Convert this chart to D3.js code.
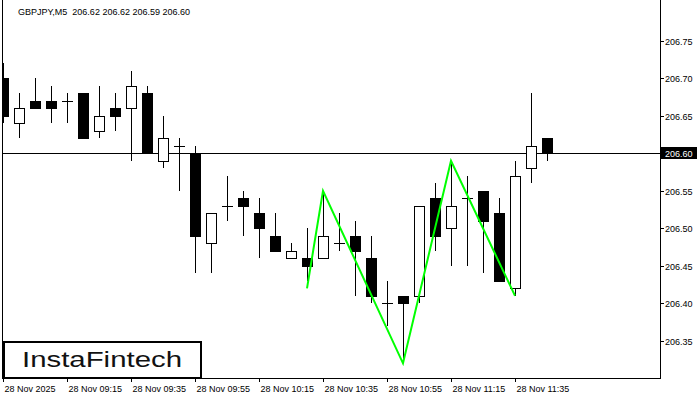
<!DOCTYPE html>
<html>
<head>
<meta charset="utf-8">
<script src="https://cdn.jsdelivr.net/npm/d3@7"></script>
<style>
  html, body { margin: 0; padding: 0; background: #fff; }
  svg { display: block; }
  text { font-family: "Liberation Sans", Arial, sans-serif; white-space: pre; }
</style>
</head>
<body>
<svg id="chart" width="700" height="400"></svg>
<script>
// ---- data ----
const times = ["08:55","09:00","09:05","09:10","09:15","09:20","09:25","09:30","09:35","09:40",
               "09:45","09:50","09:55","10:00","10:05","10:10","10:15","10:20","10:25","10:30",
               "10:35","10:40","10:45","10:50","10:55","11:00","11:05","11:10","11:15","11:20",
               "11:25","11:30","11:35","11:40","11:45"];
const opens  = [206.70,206.64,206.67,206.67,206.67,206.68,206.63,206.66,206.66,206.68,
                206.59,206.61,206.60,206.48,206.53,206.54,206.52,206.49,206.46,206.46,
                206.46,206.48,206.49,206.46,206.40,206.41,206.41,206.54,206.50,206.54,
                206.55,206.52,206.42,206.58,206.62];
const highs  = [206.72,206.68,206.70,206.69,206.68,206.68,206.69,206.68,206.71,206.69,
                206.65,206.62,206.61,206.52,206.57,206.55,206.54,206.52,206.48,206.50,
                206.55,206.52,206.51,206.49,206.43,206.41,206.53,206.56,206.59,206.57,
                206.55,206.54,206.59,206.68,206.62];
const lows   = [206.64,206.62,206.66,206.64,206.64,206.62,206.62,206.63,206.59,206.60,
                206.58,206.55,206.44,206.44,206.51,206.49,206.46,206.47,206.46,206.43,
                206.46,206.47,206.41,206.40,206.37,206.32,206.40,206.47,206.45,206.45,
                206.44,206.43,206.41,206.56,206.59];
const closes = [206.65,206.66,206.66,206.66,206.67,206.62,206.65,206.65,206.69,206.60,
                206.62,206.61,206.49,206.52,206.53,206.53,206.50,206.47,206.47,206.45,
                206.49,206.48,206.47,206.41,206.40,206.40,206.53,206.49,206.53,206.54,
                206.51,206.43,206.57,206.61,206.60];
const patternIdx  = [19, 20, 25, 28, 32];
const patternVals = [206.42, 206.55, 206.32, 206.59, 206.41];
const yTicks = [206.35, 206.40, 206.45, 206.50, 206.55, 206.60, 206.65, 206.70, 206.75];
const xTickIdx = [0, 4, 8, 12, 16, 20, 24, 28, 32];
const xTickLabels = ["28 Nov 2025","28 Nov 09:15","28 Nov 09:35","28 Nov 09:55","28 Nov 10:15",
                     "28 Nov 10:35","28 Nov 10:55","28 Nov 11:15","28 Nov 11:35"];
const currentPrice = 206.60;
const headerText = "GBPJPY,M5  206.62 206.62 206.59 206.60";

// ---- layout ----
const plot = {left: 2, right: 660, top: 0, bottom: 378};
const svg = d3.select("#chart");
const x = d3.scaleLinear().domain([0, 34]).range([3, 547]);
const y = d3.scaleLinear().domain([206.30, 206.80]).range([378.3, 3.3]);

svg.append("defs").append("clipPath").attr("id", "clip")
  .append("rect").attr("x", plot.left).attr("y", plot.top)
  .attr("width", plot.right - plot.left).attr("height", plot.bottom - plot.top);

const g = svg.append("g").attr("clip-path", "url(#clip)");

// current price line
g.append("line")
  .attr("x1", plot.left).attr("x2", plot.right)
  .attr("y1", Math.round(y(currentPrice)) + 0.5).attr("y2", Math.round(y(currentPrice)) + 0.5)
  .attr("stroke", "#000").attr("stroke-width", 1);

const candles = times.map((t, i) => ({i, o: opens[i], h: highs[i], l: lows[i], c: closes[i]}));
const cg = g.append("g").attr("shape-rendering", "crispEdges");
const bw = 10;

candles.forEach(d => {
  const cx = Math.round(x(d.i));
  cg.append("line")
    .attr("x1", cx + 0.5).attr("x2", cx + 0.5)
    .attr("y1", Math.round(y(d.h))).attr("y2", Math.round(y(d.l)))
    .attr("stroke", "#000").attr("stroke-width", 1);
  if (d.o === d.c) {
    cg.append("line")
      .attr("x1", cx - 5).attr("x2", cx + 6)
      .attr("y1", Math.round(y(d.o)) + 0.5).attr("y2", Math.round(y(d.o)) + 0.5)
      .attr("stroke", "#000").attr("stroke-width", 1);
  } else {
    const top = Math.round(y(Math.max(d.o, d.c)));
    const bot = Math.round(y(Math.min(d.o, d.c)));
    cg.append("rect")
      .attr("x", cx - 5 + 0.5).attr("y", top + 0.5)
      .attr("width", bw).attr("height", Math.max(1, bot - top))
      .attr("fill", d.c > d.o ? "#fff" : "#000")
      .attr("stroke", "#000").attr("stroke-width", 1);
  }
});

// pattern line
g.append("path")
  .datum(patternIdx.map((k, j) => [k, patternVals[j]]))
  .attr("d", d3.line().x(d => x(d[0])).y(d => y(d[1])))
  .attr("fill", "none").attr("stroke", "#00ff00").attr("stroke-width", 2);

// frame
svg.append("rect")
  .attr("x", plot.left + 0.5).attr("y", plot.top - 0.5)
  .attr("width", plot.right - plot.left).attr("height", plot.bottom - plot.top + 0.5)
  .attr("fill", "none").attr("stroke", "#000").attr("stroke-width", 1)
  .attr("shape-rendering", "crispEdges");

// y axis (right)
const yAxis = svg.append("g").attr("shape-rendering", "crispEdges");
yTicks.forEach(v => {
  const yy = Math.round(y(v)) + 0.5;
  yAxis.append("line").attr("x1", plot.right).attr("x2", plot.right + 4)
    .attr("y1", yy).attr("y2", yy).attr("stroke", "#000");
  if (v !== currentPrice) {
    yAxis.append("text").attr("x", 665).attr("y", yy + 3.5)
      .attr("font-size", 9).attr("fill", "#000").text(v.toFixed(2));
  }
});
// current price label
const cpY = Math.round(y(currentPrice));
svg.append("rect").attr("x", 661).attr("y", cpY - 6).attr("width", 36).attr("height", 12)
  .attr("fill", "#000");
svg.append("text").attr("x", 665).attr("y", cpY + 4)
  .attr("font-size", 9).attr("fill", "#fff").text(currentPrice.toFixed(2));

// x axis
const xAxis = svg.append("g").attr("shape-rendering", "crispEdges");
xTickIdx.forEach((k, j) => {
  const xx = Math.round(x(k)) + 0.5;
  xAxis.append("line").attr("x1", xx).attr("x2", xx)
    .attr("y1", plot.bottom).attr("y2", plot.bottom + 4).attr("stroke", "#000");
  xAxis.append("text").attr("x", xx + 1).attr("y", 392)
    .attr("font-size", 9).attr("fill", "#000").text(xTickLabels[j]);
});

// header
svg.append("text").attr("x", 18).attr("y", 15)
  .attr("font-size", 9).attr("fill", "#000").text(headerText);

// logo box
svg.append("rect").attr("x", 4).attr("y", 342).attr("width", 197).attr("height", 36)
  .attr("fill", "#fff").attr("stroke", "#000").attr("stroke-width", 2);
svg.append("text").attr("x", 22).attr("y", 367)
  .attr("font-family", "'Open Sans', Lato, sans-serif")
  .attr("font-size", 22).attr("font-weight", 500).attr("fill", "#111")
  .attr("textLength", 160).attr("lengthAdjust", "spacingAndGlyphs")
  .text("InstaFintech");
</script>
</body>
</html>
